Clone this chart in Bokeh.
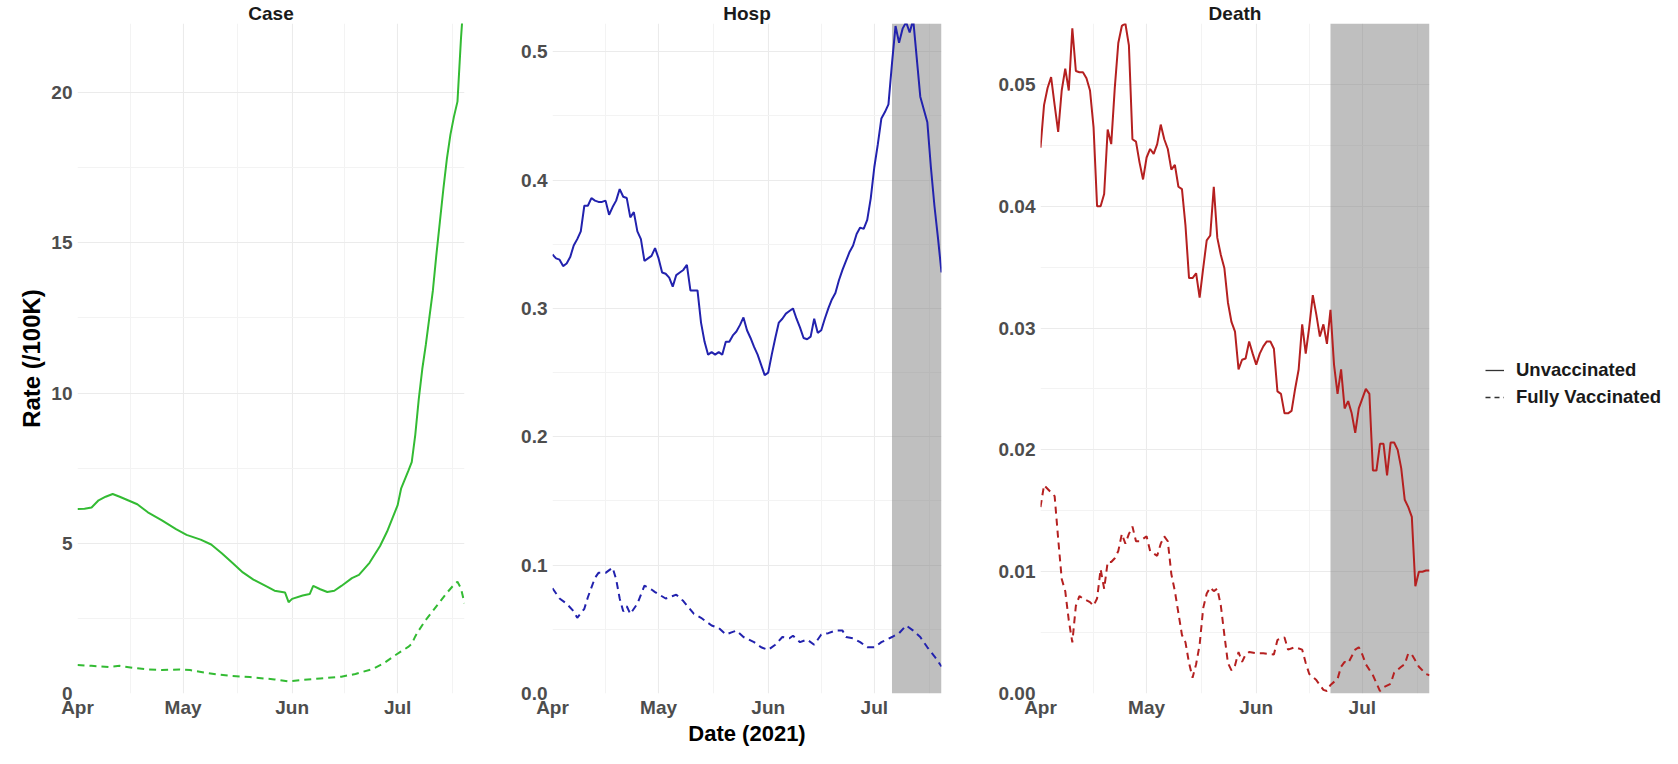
from datetime import datetime, timedelta

from bokeh.plotting import figure
from bokeh.layouts import row
from bokeh.models import (Range1d, FixedTicker, DatetimeTickFormatter, NumeralTickFormatter,
                          Legend, LegendItem, BoxAnnotation)
from bokeh.embed import file_html
from bokeh.resources import INLINE

# ---------------- data (day offset from 2021-04-01, value per 100K) ----------------
START = datetime(2021, 4, 1)
X_END_DAY = 110

case_unvax_days = [0, 2, 4, 6, 8, 10, 12, 14, 17, 20, 24, 28, 31, 35, 38, 41, 44, 47, 50, 54, 56,
                   59, 60, 61, 64, 66, 67, 69, 71, 73, 75, 78, 80, 83, 86, 88, 91, 92, 94, 95, 96,
                   97, 98, 99, 100, 101, 102, 103, 104, 105, 106, 107, 108, 109, 110]
case_unvax_vals = [6.14, 6.15, 6.19, 6.43, 6.55, 6.64, 6.55, 6.45, 6.30, 6.03, 5.76, 5.47, 5.28,
                   5.12, 4.96, 4.67, 4.35, 4.03, 3.79, 3.55, 3.42, 3.36, 3.04, 3.15, 3.26, 3.31,
                   3.58, 3.47, 3.38, 3.42, 3.58, 3.84, 3.95, 4.35, 4.91, 5.39, 6.27, 6.83, 7.40,
                   7.70, 8.6, 9.8, 10.8, 11.6, 12.5, 13.4, 14.6, 15.7, 16.8, 17.8, 18.6, 19.2,
                   19.7, 21.8, 23.5]

case_vax_days = [0, 4, 9, 12, 16, 20, 24, 29, 32, 36, 40, 44, 49, 53, 56, 60, 64, 69, 75, 79, 84,
                 87, 90, 92, 94, 95, 96, 97, 99, 101, 103, 105, 107, 108, 109, 110]
case_vax_vals = [0.95, 0.92, 0.88, 0.92, 0.85, 0.80, 0.78, 0.80, 0.78, 0.70, 0.63, 0.58, 0.55,
                 0.50, 0.47, 0.40, 0.45, 0.50, 0.56, 0.65, 0.82, 1.00, 1.25, 1.40, 1.55, 1.65,
                 1.90, 2.10, 2.45, 2.75, 3.05, 3.35, 3.62, 3.72, 3.50, 3.00]

hosp_unvax_vals = [0.342, 0.339, 0.338, 0.333, 0.335, 0.340, 0.349, 0.354, 0.360, 0.380, 0.380,
                   0.386, 0.384, 0.383, 0.383, 0.384, 0.373, 0.379, 0.384, 0.393, 0.387, 0.386,
                   0.371, 0.375, 0.360, 0.354, 0.337, 0.339, 0.341, 0.347, 0.339, 0.328, 0.327,
                   0.324, 0.317, 0.326, 0.328, 0.330, 0.334, 0.314, 0.314, 0.314, 0.289, 0.274,
                   0.264, 0.266, 0.264, 0.266, 0.264, 0.274, 0.274, 0.279, 0.282, 0.287, 0.293,
                   0.283, 0.277, 0.270, 0.264, 0.256, 0.248, 0.250, 0.264, 0.277, 0.289, 0.292,
                   0.296, 0.298, 0.300, 0.292, 0.285, 0.277, 0.276, 0.278, 0.292, 0.281, 0.283,
                   0.292, 0.300, 0.307, 0.312, 0.322, 0.330, 0.337, 0.344, 0.349, 0.358, 0.363,
                   0.362, 0.369, 0.386, 0.410, 0.428, 0.448, 0.453, 0.459, 0.491, 0.520, 0.507,
                   0.518, 0.523, 0.515, 0.525, 0.495, 0.465, 0.455, 0.445, 0.410, 0.380, 0.355,
                   0.328]

hosp_vax_days = [0, 2, 4, 6, 7, 9, 10, 12, 13, 15, 17, 18, 19, 20, 21, 22, 24, 26, 28, 29, 32, 34,
                 35, 37, 40, 42, 45, 47, 49, 51, 52, 54, 57, 59, 61, 63, 65, 67, 68, 70, 72, 74,
                 76, 78, 80, 82, 83, 85, 87, 89, 91, 93, 96, 98, 100, 102, 104, 106, 108, 110]
hosp_vax_vals = [0.082, 0.074, 0.070, 0.064, 0.059, 0.066, 0.075, 0.090, 0.094, 0.094, 0.098,
                 0.089, 0.074, 0.064, 0.068, 0.062, 0.070, 0.084, 0.081, 0.079, 0.074, 0.076,
                 0.077, 0.072, 0.062, 0.059, 0.053, 0.051, 0.046, 0.048, 0.049, 0.044, 0.040,
                 0.036, 0.034, 0.038, 0.044, 0.043, 0.045, 0.040, 0.042, 0.038, 0.046, 0.047,
                 0.049, 0.049, 0.044, 0.043, 0.040, 0.036, 0.036, 0.040, 0.044, 0.047, 0.053,
                 0.049, 0.044, 0.036, 0.029, 0.021]

death_unvax_vals = [0.0448, 0.0483, 0.0497, 0.0506, 0.0483, 0.0461, 0.0495, 0.0513, 0.0495,
                    0.0546, 0.0511, 0.0510, 0.0510, 0.0505, 0.0495, 0.0465, 0.0400, 0.0400,
                    0.0410, 0.0463, 0.0451, 0.0497, 0.0534, 0.0548, 0.0550, 0.0532, 0.0455,
                    0.0453, 0.0436, 0.0422, 0.0440, 0.0447, 0.0443, 0.0451, 0.0467, 0.0455,
                    0.0447, 0.0430, 0.0434, 0.0416, 0.0414, 0.0384, 0.0341, 0.0341, 0.0345,
                    0.0325, 0.0349, 0.0372, 0.0376, 0.0416, 0.0374, 0.0360, 0.0349, 0.0321,
                    0.0305, 0.0297, 0.0266, 0.0274, 0.0275, 0.0289, 0.0279, 0.0270, 0.0279,
                    0.0285, 0.0289, 0.0289, 0.0283, 0.0248, 0.0246, 0.0230, 0.0230, 0.0232,
                    0.0250, 0.0266, 0.0303, 0.0279, 0.0301, 0.0327, 0.0311, 0.0293, 0.0303,
                    0.0287, 0.0315, 0.0270, 0.0246, 0.0266, 0.0234, 0.0240, 0.0230, 0.0214,
                    0.0234, 0.0242, 0.0250, 0.0246, 0.0183, 0.0183, 0.0205, 0.0205, 0.0179,
                    0.0206, 0.0206, 0.0200, 0.0185, 0.0159, 0.0153, 0.0145, 0.0088, 0.0100,
                    0.0100, 0.0101, 0.0101]

death_vax_days = [0, 1, 4, 5, 6, 7, 8, 9, 10, 11, 12, 14, 15, 16, 17, 18, 19, 20, 21, 22, 23, 24,
                  25, 26, 27, 28, 29, 30, 31, 32, 33, 34, 35, 36, 37, 38, 39, 40, 41, 42, 43, 44,
                  45, 46, 47, 48, 49, 50, 51, 52, 53, 54, 55, 56, 57, 58, 59, 61, 63, 66, 67, 69,
                  70, 72, 74, 75, 76, 78, 80, 81, 82, 84, 85, 86, 87, 89, 90, 91, 92, 94, 96, 97,
                  99, 100, 102, 103, 104, 105, 107, 109, 110]
death_vax_vals = [0.0153, 0.0171, 0.0162, 0.0127, 0.0094, 0.0084, 0.0060, 0.0042, 0.0072,
                  0.0080, 0.0078, 0.0075, 0.0072, 0.0078, 0.0102, 0.0086, 0.0108, 0.0108,
                  0.0111, 0.0117, 0.0131, 0.0123, 0.0131, 0.0137, 0.0125, 0.0125, 0.0127,
                  0.0129, 0.0117, 0.0115, 0.0113, 0.0123, 0.0129, 0.0125, 0.0098, 0.0084,
                  0.0066, 0.0048, 0.0042, 0.0025, 0.0013, 0.0024, 0.0040, 0.0070, 0.0082,
                  0.0087, 0.0084, 0.0086, 0.0072, 0.0048, 0.0025, 0.0019, 0.0023, 0.0034,
                  0.0026, 0.0032, 0.0034, 0.0033, 0.0033, 0.0032, 0.0044, 0.0046, 0.0036,
                  0.0038, 0.0036, 0.0025, 0.0016, 0.0011, 0.0003, 0.0002, 0.0007, 0.0012,
                  0.0022, 0.0026, 0.0025, 0.0036, 0.0038, 0.0032, 0.0024, 0.0015, 0.0002,
                  0.0005, 0.0008, 0.0017, 0.0022, 0.0024, 0.0033, 0.0032, 0.0022, 0.0016,
                  0.0015]

hosp_shade_start = "2021-07-06"
death_shade_start = "2021-06-22"

panels = ["Case", "Hosp", "Death"]
panel_colors = ["#33BB33", "#2222AE", "#B52020"]
y_max = [22.3, 0.522, 0.055]
y_major = [[0, 5, 10, 15, 20], [0.0, 0.1, 0.2, 0.3, 0.4, 0.5],
           [0.00, 0.01, 0.02, 0.03, 0.04, 0.05]]
y_minor = [[2.5, 7.5, 12.5, 17.5, 22.5], [0.05, 0.15, 0.25, 0.35, 0.45],
           [0.005, 0.015, 0.025, 0.035, 0.045]]
y_formats = ["0", "0.0", "0.00"]
month_ticks = ["2021-04-01", "2021-05-01", "2021-06-01", "2021-07-01"]
month_minor = ["2021-04-16", "2021-05-16 12:00", "2021-06-16", "2021-07-16 12:00"]
legend_labels = ["Unvaccinated", "Fully Vaccinated"]
x_title = "Date (2021)"
y_title = "Rate (/100K)"

# ---------------- helpers ----------------
EPOCH = datetime(1970, 1, 1)


def to_dt(s):
    fmt = "%Y-%m-%d %H:%M" if " " in s else "%Y-%m-%d"
    return datetime.strptime(s, fmt)


def ms(d):
    return (d - EPOCH).total_seconds() * 1000.0


def days_to_dt(days):
    return [START + timedelta(days=d) for d in days]


FONT = "Liberation Sans"
TICK_COLOR = "#4D4D4D"
GRID_MAJOR = "#EBEBEB"
GRID_MINOR = "#F3F3F3"

TOP = 20
BOTTOM = 50
FIG_H = 748

lefts = [77, 84, 95]
rights = [4, 4, 4]
frame_w = [387, 389, 389]

series = [
    ((case_unvax_days, case_unvax_vals), (case_vax_days, case_vax_vals), None),
    ((list(range(len(hosp_unvax_vals))), hosp_unvax_vals), (hosp_vax_days, hosp_vax_vals), hosp_shade_start),
    ((list(range(len(death_unvax_vals))), death_unvax_vals), (death_vax_days, death_vax_vals), death_shade_start),
]

figs = []
for i, name in enumerate(panels):
    p = figure(width=lefts[i] + frame_w[i] + rights[i], height=FIG_H,
               x_axis_type="datetime", output_backend="svg", toolbar_location=None,
               x_range=Range1d(START, START + timedelta(days=X_END_DAY)),
               y_range=Range1d(0, y_max[i]),
               min_border_left=lefts[i], min_border_right=rights[i],
               min_border_top=TOP, min_border_bottom=BOTTOM)
    p.outline_line_color = None
    p.background_fill_color = "white"
    p.border_fill_color = "white"

    # title
    p.title.text = name
    p.title.align = "center"
    p.title.text_font = FONT
    p.title.text_font_style = "bold"
    p.title.text_font_size = "19px"
    p.title.text_color = "#1A1A1A"
    p.title.standoff = 0

    # x axis
    p.xaxis.ticker = FixedTicker(ticks=[ms(to_dt(s)) for s in month_ticks],
                                 minor_ticks=[ms(to_dt(s)) for s in month_minor])
    p.xaxis.formatter = DatetimeTickFormatter(days="%b", months="%b", years="%b", hours="%b",
                                              hourmin="%b", minutes="%b", minsec="%b",
                                              seconds="%b", milliseconds="%b",
                                              microseconds="%b")
    # y axis
    p.yaxis.ticker = FixedTicker(ticks=y_major[i], minor_ticks=y_minor[i])
    p.yaxis.formatter = NumeralTickFormatter(format=y_formats[i])

    for ax in (p.xaxis, p.yaxis):
        ax.axis_line_color = None
        ax.major_tick_line_color = None
        ax.minor_tick_line_color = None
        ax.major_tick_out = 0
        ax.major_tick_in = 0
        ax.minor_tick_out = 0
        ax.minor_tick_in = 0
        ax.major_label_text_font = FONT
        ax.major_label_text_font_style = "bold"
        ax.major_label_text_font_size = "19px"
        ax.major_label_text_color = TICK_COLOR
        ax.axis_label_text_font = FONT
        ax.axis_label_text_font_style = "bold"
        ax.axis_label_text_color = "black"
    p.xaxis.axis_label_text_font_size = "22px"
    p.yaxis.axis_label_text_font_size = "24px"
    p.xaxis.major_label_standoff = 3
    p.yaxis.major_label_standoff = 5

    for g in (p.xgrid, p.ygrid):
        g.grid_line_color = GRID_MAJOR
        g.grid_line_width = 1.1
        g.minor_grid_line_color = GRID_MINOR
        g.minor_grid_line_width = 1.0

    (ud, uv), (vd, vv), shade = series[i]
    if shade is not None:
        p.add_layout(BoxAnnotation(left=to_dt(shade), fill_color="#808080", fill_alpha=0.5,
                                   line_color=None, level="underlay"))
    p.line(days_to_dt(ud), uv, line_color=panel_colors[i], line_width=2.0)
    p.line(days_to_dt(vd), vv, line_color=panel_colors[i], line_width=2.0, line_dash="7 5")
    figs.append(p)

figs[0].yaxis.axis_label = y_title
figs[0].yaxis.axis_label_standoff = 3
figs[1].xaxis.axis_label = x_title
figs[1].xaxis.axis_label_standoff = 0

# legend panel (a blank figure holding only the key)
lw = 1662 - sum(lefts) - sum(frame_w) - sum(rights)
pl = figure(width=lw, height=FIG_H, output_backend="svg", toolbar_location=None,
            x_range=Range1d(0, 1), y_range=Range1d(0, 1),
            min_border_left=0, min_border_right=0, min_border_top=TOP, min_border_bottom=BOTTOM)
pl.axis.visible = False
pl.grid.visible = False
pl.outline_line_color = None
r_solid = pl.line([-3, -2], [-3, -2], line_color="#333333", line_width=1.3)
r_dash = pl.line([-3, -2], [-3, -2], line_color="#333333", line_width=1.3, line_dash="5 4")
legend = Legend(items=[LegendItem(label=legend_labels[0], renderers=[r_solid]),
                       LegendItem(label=legend_labels[1], renderers=[r_dash])],
                location=(52, 285), border_line_color=None, background_fill_alpha=0,
                label_text_font=FONT, label_text_font_style="bold",
                label_text_font_size="18.5px", label_text_color="#1A1A1A",
                glyph_width=19, glyph_height=20, label_height=20, label_standoff=12,
                spacing=5, padding=0, margin=0)
pl.add_layout(legend)
figs.append(pl)

layout = row(*figs)
open("out.html", "w").write(file_html(layout, INLINE))
